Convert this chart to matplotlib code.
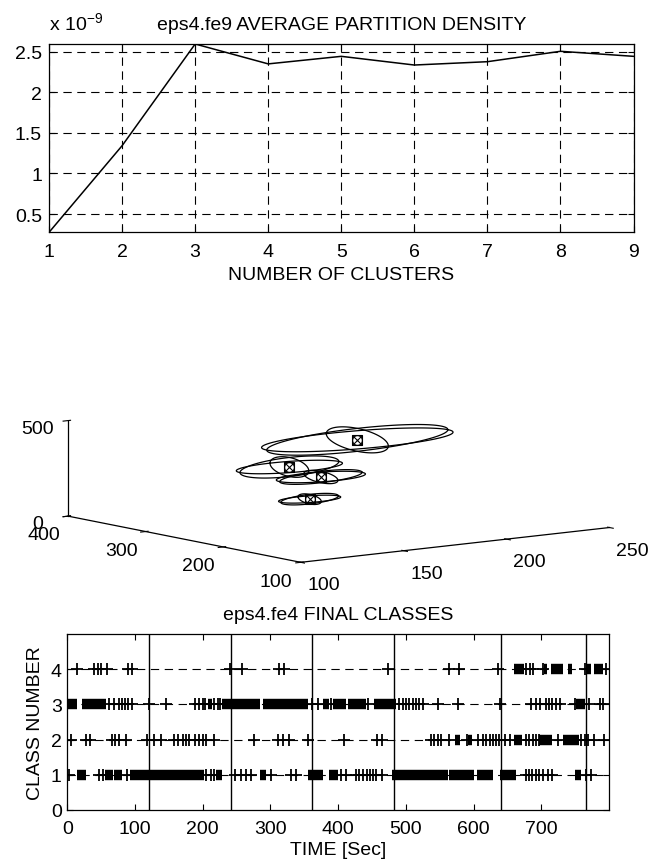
import numpy as np
import matplotlib
matplotlib.use("Agg")
import matplotlib.pyplot as plt

plt.rcParams['font.family'] = ['Liberation Sans', 'DejaVu Sans']
plt.rcParams['mathtext.default'] = 'regular'
plt.rcParams['lines.scale_dashes'] = False

# ---- top panel: average partition density (x 1e-9) ----
n_clusters = [1, 2, 3, 4, 5, 6, 7, 8, 9]
density_e9 = [0.275, 1.342, 2.595, 2.350, 2.443, 2.336, 2.377, 2.505, 2.443]

# ---- middle panel: cluster centres (x, y, z) and spreads ----
centre_x = [184, 151, 155, 142]
centre_y = [250, 250, 220, 200]
centre_z = [418, 316, 283, 199]
spread_x = [44, 24, 20, 14]
spread_y = [40, 25, 22, 15]
spread_z = [60, 50, 30, 25]

# ---- bottom panel: final classes over time ----
segment_edges = [120, 241, 361, 482, 641, 766]
class_points = {
    1: [2, 47, 52, 88, 205, 212, 217, 247, 257, 264, 271, 301, 331, 337,
        404, 412, 427, 431, 437, 442, 447, 451, 456, 464, 677, 682, 686,
        692, 697, 702, 710, 715, 766, 774],
    2: [5, 27, 34, 66, 71, 76, 86, 117, 128, 138, 158, 163, 171, 175, 180,
        189, 195, 201, 205, 217, 275, 311, 318, 327, 356, 408, 458, 465,
        537, 542, 547, 552, 564, 590, 606, 614, 618, 624, 628, 633, 638,
        646, 653, 677, 682, 687, 692, 696, 725, 759, 764, 769, 777, 793],
    3: [62, 69, 77, 81, 85, 89, 96, 120, 145, 189, 195, 200, 204, 217, 222,
        226, 361, 370, 389, 444, 490, 496, 500, 505, 510, 515, 520, 525,
        547, 577, 639, 685, 692, 698, 707, 712, 716, 721, 727, 749, 771,
        786, 791],
    4: [15, 40, 46, 50, 58, 89, 96, 240, 258, 312, 320, 473, 563, 579, 636,
        677, 683, 688, 702, 764, 796],
}
# stretches where the markers merge into a solid bar (start, end)
class_runs = {
    1: [(15, 27), (56, 67), (69, 81), (92, 202), (220, 228), (285, 294),
        (355, 377), (387, 400), (480, 562), (564, 601), (605, 629),
        (639, 662), (749, 759)],
    2: [(573, 580), (592, 598), (659, 672), (697, 715), (732, 756)],
    3: [(0, 15), (22, 57), (207, 213), (229, 284), (289, 356), (377, 386),
        (393, 412), (414, 441), (453, 485), (751, 764)],
    4: [(660, 674), (704, 709), (714, 732), (739, 745), (768, 774),
        (778, 791)],
}

FS = 14
fig = plt.figure(figsize=(6.68, 8.62), dpi=100)


def matlab_box(ax):
    for s in ax.spines.values():
        s.set_linewidth(0.9)
    ax.tick_params(direction='in', top=True, right=True, length=4,
                   width=0.8, labelsize=FS)


# top
ax1 = fig.add_axes([0.0734, 0.7293, 0.875, 0.2185])
ax1.plot(n_clusters, density_e9, color='k', lw=1.1)
ax1.set_xlim(min(n_clusters), max(n_clusters))
ax1.set_ylim(min(density_e9), max(density_e9))
ax1.set_xticks(n_clusters)
ax1.set_yticks([0.5, 1, 1.5, 2, 2.5])
ax1.set_yticklabels(['0.5', '1', '1.5', '2', '2.5'])
ax1.grid(True, color='k', lw=0.8, ls=(0, (6, 4)))
matlab_box(ax1)
ax1.tick_params(axis='x', pad=8)
ax1.tick_params(axis='y', pad=5)
ax1.set_title('eps4.fe9 AVERAGE PARTITION DENSITY', fontsize=FS, y=1.0, pad=11)
ax1.set_xlabel('NUMBER OF CLUSTERS', fontsize=FS, labelpad=4)
ax1.text(0.0, 1.06, 'x 10$^{-9}$', transform=ax1.transAxes, fontsize=FS,
         ha='left', va='bottom')

# bottom
ax2 = fig.add_axes([0.1008, 0.0592, 0.811, 0.2042])
for c in (1, 2, 3, 4):
    ax2.axhline(c, color='k', lw=0.8, ls=(0, (6, 4)), zorder=1)
    pts = class_points[c]
    ax2.plot(pts, [c] * len(pts), '+', color='k', ms=8, mew=1.3, zorder=3)
    runs = class_runs[c]
    ax2.hlines([c] * len(runs), [r[0] for r in runs], [r[1] for r in runs],
               color='k', lw=7.5, capstyle='butt', zorder=3)
for e in segment_edges:
    ax2.axvline(e, color='k', lw=1.0, zorder=2)
ax2.set_xlim(0, 800)
ax2.set_ylim(0, 5)
ax2.set_xticks([0, 100, 200, 300, 400, 500, 600, 700])
ax2.set_yticks([0, 1, 2, 3, 4])
matlab_box(ax2)
ax2.tick_params(axis='x', pad=7)
ax2.tick_params(axis='y', pad=4)
ax2.set_title('eps4.fe4 FINAL CLASSES', fontsize=FS, y=1.0, pad=11)
ax2.set_xlabel('TIME [Sec]', fontsize=FS, labelpad=3)
ax2.set_ylabel('CLASS NUMBER', fontsize=FS, labelpad=5)

# middle 3D
ax3 = fig.add_axes([0.0928, 0.1278, 0.8069, 0.6253], projection='3d')
ax3.set_facecolor('none')
ax3.patch.set_alpha(0)
ax3.set_proj_type('ortho')
ax3.view_init(elev=8.6, azim=-127)
ax3.set_box_aspect((4, 4, 1))
t = np.linspace(0, 2 * np.pi, 120)
for cx, cy, cz, sx, sy, sz in zip(centre_x, centre_y, centre_z,
                                  spread_x, spread_y, spread_z):
    ax3.plot(cx + sx * np.cos(t), cy + sy * np.sin(t), np.full_like(t, cz),
             color='k', lw=0.9)
    ax3.plot(cx + sx * np.cos(t), np.full_like(t, cy), cz + sz * np.sin(t),
             color='k', lw=0.9)
    ax3.plot(np.full_like(t, cx), cy + sy * np.cos(t), cz + sz * np.sin(t),
             color='k', lw=0.9)
ax3.plot(centre_x, centre_y, centre_z, 's', mfc='none', mec='k', ms=7, mew=0.8)
ax3.plot(centre_x, centre_y, centre_z, 'x', color='k', ms=7, mew=0.8)
ax3.plot(centre_x, centre_y, centre_z, 'o', mfc='none', mec='k', ms=7, mew=0.8)
ax3.set_xlim(100, 250)
ax3.set_ylim(100, 400)
ax3.set_zlim(0, 500)
ax3.set_xticks([100, 150, 200, 250])
ax3.set_yticks([100, 200, 300, 400])
ax3.set_zticks([0, 500])
ax3.grid(False)
for a in (ax3.xaxis, ax3.yaxis, ax3.zaxis):
    a.set_pane_color((1, 1, 1, 0))
    a.pane.set_edgecolor((1, 1, 1, 0))
    a.line.set_color('k')
    a.line.set_linewidth(0.9)
ax3.tick_params(labelsize=FS)
ax3.xaxis.set_tick_params(pad=12)
ax3.yaxis.set_tick_params(pad=8)

fig.savefig('out.png', dpi=100)
